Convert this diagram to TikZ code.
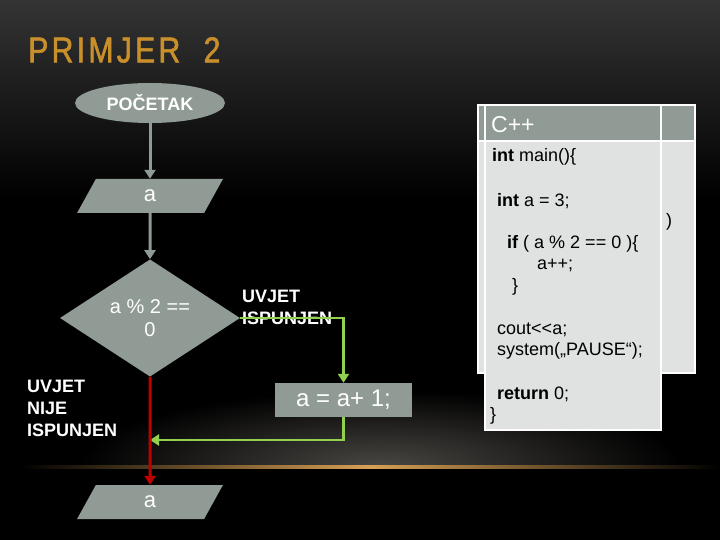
\documentclass[tikz,border=0pt]{standalone}
\usepackage{fontspec}
\setmainfont{Liberation Sans}
\newfontfamily\titlefont[FakeStretch=0.84, LetterSpace=9, FakeBold=1.5]{Liberation Sans}
\usetikzlibrary{shapes.geometric,arrows.meta}

\definecolor{boxgray}{RGB}{143,155,148}
\definecolor{codebg}{RGB}{223,226,225}
\definecolor{yesgreen}{RGB}{146,208,80}
\definecolor{nored}{RGB}{192,0,0}
\definecolor{titleorange}{RGB}{200,143,42}
\definecolor{horizon}{RGB}{215,160,85}
\definecolor{topgray}{RGB}{52,52,52}
\definecolor{glowgray}{RGB}{72,70,66}

\tikzset{
    flow/.style={fill=boxgray, text=white, inner sep=0pt},
    iobox/.style={flow, trapezium, trapezium left angle=80, trapezium right angle=100,
        trapezium stretches=true, minimum width=146pt, minimum height=34pt,
        font=\fontsize{22}{26}\selectfont},
    link/.style={line width=3pt, -{Triangle[length=9pt,width=11pt]}},
    label/.style={anchor=west, align=left, text=white, inner sep=0pt,
        font=\fontsize{18}{22}\selectfont\bfseries},
    code/.style={anchor=west, inner sep=0pt, text=black, font=\fontsize{18}{20}\selectfont}
}

\begin{document}
\begin{tikzpicture}[x=1pt,y=-1pt]
    \useasboundingbox (0,0) rectangle (720,540);
    \fill[black] (0,0) rectangle (720,540);
    \shade[top color=topgray, bottom color=black] (0,0) rectangle (720,200);
    \begin{scope}
        \clip (0,0) rectangle (720,467);
        \shade[inner color=glowgray, outer color=black] (380,465) ellipse [x radius=300pt, y radius=75pt];
    \end{scope}
    \shade[left color=black, right color=black, middle color=horizon] (20,465.5) rectangle (720,468.5);

    \node[anchor=west, text=titleorange, inner sep=0pt, font=\titlefont\fontsize{36}{40}\selectfont] (title) at (28,50) {PRIMJER\ \ 2};

    \draw[white, line width=1.5pt, fill=codebg] (478,105) rectangle (695,373);
    \fill[boxgray] (478,105) rectangle (695,141);
    \draw[white, line width=1.5pt] (478,105) rectangle (695,373) (660,105) -- (660,373) (478,141) -- (695,141);
    \fill[codebg] (485,141) rectangle (661,430);
    \fill[boxgray] (485,105) rectangle (661,141);
    \draw[white, line width=1.5pt] (485,105) rectangle (661,430) (485,141) -- (661,141);

    \node[anchor=west, inner sep=0pt, text=white, font=\fontsize{23}{26}\selectfont] (chead) at (491,125) {C++};
    \node[code] (c1) at (492,157) {\textbf{int} main()\{};
    \node[code] (c2) at (497,201) {\textbf{int} a = 3;};
    \node[code] (c3) at (666,222) {)};
    \node[code] (c4) at (507,244) {\textbf{if} ( a \% 2 == 0 )\{};
    \node[code] (c5) at (537,265) {a++;};
    \node[code] (c6) at (512,287) {\}};
    \node[code] (c7) at (497,330) {cout{<}{<}a;};
    \node[code] (c8) at (497,351) {system(„PAUSE“);};
    \node[code] (c9) at (497,394) {\textbf{return} 0;};
    \node[code] (c10) at (490,416) {\}};

    \node[flow, ellipse, minimum width=150pt, minimum height=40pt, font=\fontsize{18}{20}\selectfont\bfseries] (start) at (150,103) {POČETAK};
    \node[iobox] (ina) at (150,196) {a};
    \node[flow, diamond, minimum width=180pt, minimum height=110pt, align=center, font=\fontsize{20}{23}\selectfont] (cond) at (150,318) {a \% 2 ==\\0};
    \node[flow, rectangle, minimum width=137pt, minimum height=34pt, font=\fontsize{24}{26}\selectfont] (incr) at (343.5,400) {a = a+ 1;};
    \node[iobox] (outa) at (150,502) {a};
    \coordinate (merge) at (150,440);

    \node[label] (yeslabel) at (242,307) {UVJET\\ISPUNJEN};
    \node[label] (nolabel) at (27,408) {UVJET\\NIJE\\ISPUNJEN};

    \draw[link, boxgray] (start) -- (ina);
    \draw[link, boxgray] (ina) -- (cond);
    \draw[link, yesgreen, line width=2.5pt] (cond.east) -| (incr.north);
    \draw[link, yesgreen, line width=2.5pt] (incr.south) |- (merge);
    \draw[link, nored] (cond.south) -- (outa.north);
\end{tikzpicture}
\end{document}
